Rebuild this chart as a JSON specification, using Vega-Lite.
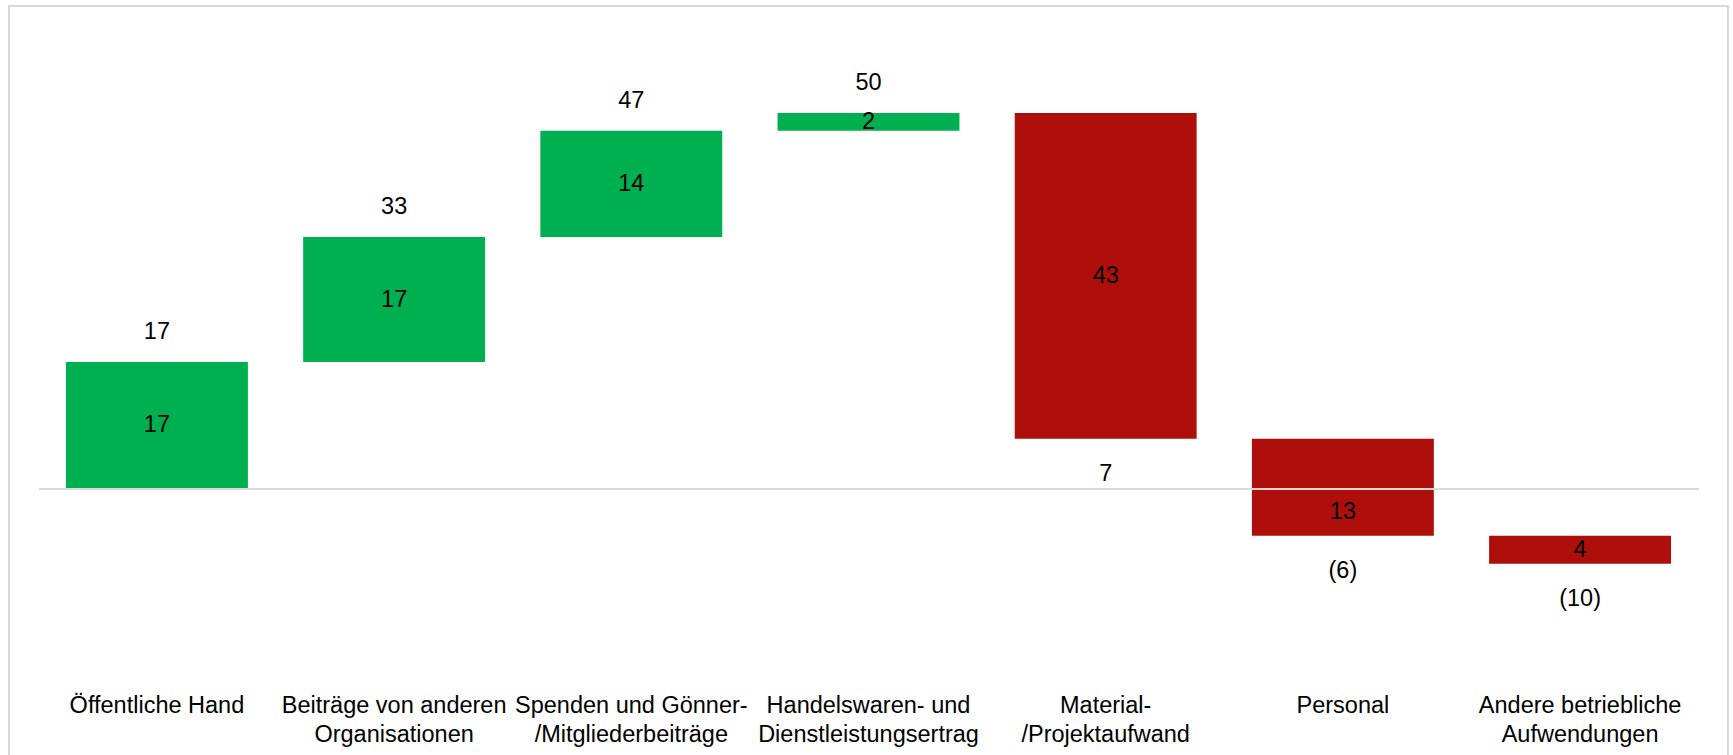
{
  "$schema": "https://vega.github.io/schema/vega-lite/v6.json",
  "width": 1719,
  "height": 749,
  "autosize": {"type": "none"},
  "padding": {"left": 9, "top": 6, "right": 5, "bottom": 0},
  "background": "white",
  "config": {
    "view": {"stroke": "#d9d9d9", "strokeWidth": 2, "strokeDash": [2468, 1719, 749]},
    "font": "Liberation Sans"
  },
  "data": {
    "values": [
      {"cat": "Öffentliche Hand", "start": 0, "end": 16.76, "delta": "17", "total": "17", "kind": "gain"},
      {"cat": "Beiträge von anderen\nOrganisationen", "start": 16.76, "end": 33.29, "delta": "17", "total": "33", "kind": "gain"},
      {"cat": "Spenden und Gönner-\n/Mitgliederbeiträge", "start": 33.29, "end": 47.35, "delta": "14", "total": "47", "kind": "gain"},
      {"cat": "Handelswaren- und\nDienstleistungsertrag", "start": 47.35, "end": 49.7, "delta": "2", "total": "50", "kind": "gain"},
      {"cat": "Material-\n/Projektaufwand", "start": 49.7, "end": 6.61, "delta": "43", "total": "7", "kind": "loss"},
      {"cat": "Personal", "start": 6.61, "end": -6.22, "delta": "13", "total": "(6)", "kind": "loss"},
      {"cat": "Andere betriebliche\nAufwendungen", "start": -6.22, "end": -9.92, "delta": "4", "total": "(10)", "kind": "loss"}
    ]
  },
  "layer": [
    {
      "mark": {"type": "bar"},
      "encoding": {
        "x": {
          "field": "cat", "type": "nominal", "sort": null,
          "scale": {"paddingInner": 0.233, "paddingOuter": 0.2402},
          "axis": {
            "title": null, "ticks": false, "domain": false, "labelAngle": 0,
            "labelFontSize": 23.5, "labelColor": "#000000", "labelFont": "Liberation Sans",
            "labelLineHeight": 28.5, "labelPadding": 0, "offset": -61.5,
            "labelOverlap": false, "labelLimit": 0, "labelBound": false,
            "labelExpr": "split(datum.label, '\\n')"
          }
        },
        "y": {"field": "start", "type": "quantitative", "scale": {"domain": [-35.2, 63.85], "nice": false, "zero": false}, "axis": null},
        "y2": {"field": "end"},
        "color": {"field": "kind", "type": "nominal", "scale": {"domain": ["gain", "loss"], "range": ["#00B050", "#AE0F0B"]}, "legend": null}
      }
    },
    {
      "mark": {"type": "rule", "color": "#d9d9d9", "strokeWidth": 1.5, "xOffset": -27, "x2Offset": 28},
      "encoding": {
        "y": {"datum": 0, "type": "quantitative"},
        "x": {"datum": "Öffentliche Hand", "type": "nominal", "bandPosition": 0},
        "x2": {"datum": "Andere betriebliche\nAufwendungen", "bandPosition": 1}
      }
    },
    {
      "transform": [
        {"calculate": "datum.end < 0 ? (min(datum.start, 0) + datum.end) / 2 : (max(datum.start, 0) + datum.end) / 2", "as": "mid"}
      ],
      "mark": {"type": "text", "fontSize": 23.5, "color": "#000000", "baseline": "middle", "align": "center"},
      "encoding": {
        "x": {"field": "cat", "type": "nominal", "sort": null},
        "y": {"field": "mid", "type": "quantitative"},
        "text": {"field": "delta"}
      }
    },
    {
      "transform": [{"filter": "datum.kind == 'gain'"}],
      "mark": {"type": "text", "fontSize": 23.5, "color": "#000000", "baseline": "alphabetic", "align": "center", "dy": -23},
      "encoding": {
        "x": {"field": "cat", "type": "nominal", "sort": null},
        "y": {"field": "end", "type": "quantitative"},
        "text": {"field": "total"}
      }
    },
    {
      "transform": [{"filter": "datum.kind == 'loss'"}],
      "mark": {"type": "text", "fontSize": 23.5, "color": "#000000", "baseline": "top", "align": "center", "dy": 23},
      "encoding": {
        "x": {"field": "cat", "type": "nominal", "sort": null},
        "y": {"field": "end", "type": "quantitative"},
        "text": {"field": "total"}
      }
    }
  ]
}
